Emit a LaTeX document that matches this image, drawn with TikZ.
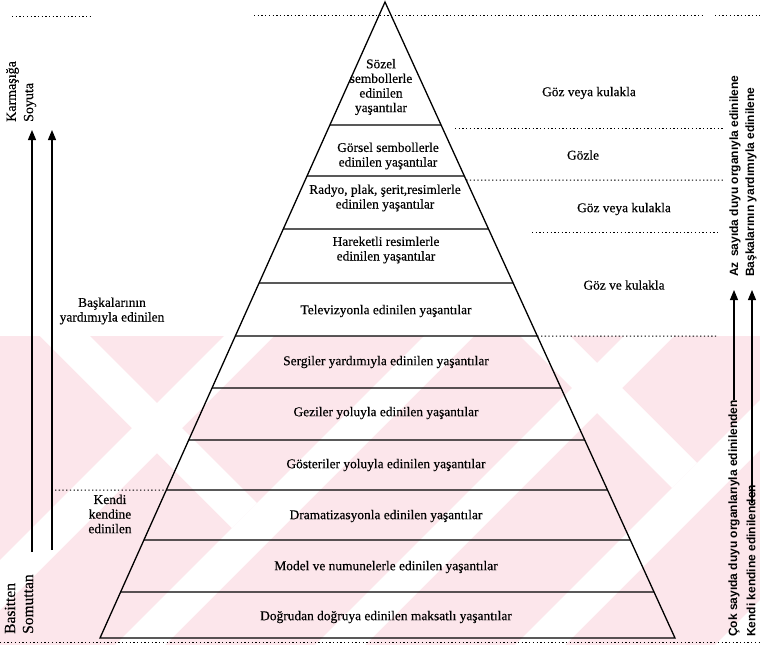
\documentclass[tikz,border=0pt]{standalone}
\usepackage{fontspec}
\setmainfont{Liberation Serif}[FakeBold=0.35]
\newfontfamily\sansb{Liberation Sans}
\usetikzlibrary{arrows.meta,calc}
\definecolor{wm}{RGB}{252,230,235}
\begin{document}
\begin{tikzpicture}[x=1pt,y=-1pt,
  lbl/.style={font=\fontsize{13.4}{14.6}\selectfont, align=center, inner sep=0pt},
  vtxt/.style={font=\fontsize{14}{15}\selectfont, rotate=90, anchor=west, inner sep=0pt},
  vtxtb/.style={font=\fontsize{15.5}{16}\selectfont, rotate=90, anchor=west, inner sep=0pt},
  vsans/.style={font=\sansb\bfseries\fontsize{12}{13}\selectfont, rotate=90, anchor=west, inner sep=0pt},
  dotline/.style={line width=1pt, dash pattern=on 1.3pt off 2.4pt},
  pedge/.style={line width=1.3pt, line join=miter},
  tier/.style={line width=1.2pt},
  uparrow/.style={line width=1.1pt, -{Triangle[length=10pt,width=8pt]}},
  band/.style={fill=white, draw=none},
]
\clip (0,0) rectangle (760,645);
% watermark
\begin{scope}
  \clip (0,336) rectangle (760,645);
  \fill[wm] (0,336) rectangle (760,645);
  \foreach \c in {560,760,960,1160,1360} {
    \fill[band] (\c-336,336) -- (\c-336+50,336) -- (\c-645+50,645) -- (\c-645,645) -- cycle;
  }
  \fill[band] (40,336) -- (90,336) -- (257,503) -- (232,528) -- cycle;
  \fill[band] (520,336) -- (570,336) -- (697,463) -- (672,488) -- cycle;
\end{scope}

% pyramid
\coordinate (A) at (385,2);
\coordinate (BL) at (100,638);
\coordinate (BR) at (675,638);
\draw[pedge] (A) -- (BL) -- (BR) -- cycle;
\foreach \y [count=\i] in {125,176,229,283,336,388,440,490,540,592} {
  \coordinate (L\i) at (intersection of A--BL and 0,\y--760,\y);
  \coordinate (R\i) at (intersection of A--BR and 0,\y--760,\y);
  \draw[tier] (L\i) -- (R\i);
}

% tier labels
\node[lbl] (t1) at (381,87) {Sözel\\sembollerle\\edinilen\\yaşantılar};
\node[lbl] (t2) at (388,156) {Görsel sembollerle\\edinilen yaşantılar};
\node[lbl] (t3) at (385,198) {Radyo, plak, şerit,resimlerle\\edinilen yaşantılar};
\node[lbl] (t4) at (386,250) {Hareketli resimlerle\\edinilen yaşantılar};
\node[lbl] (t5) at (386,311) {Televizyonla edinilen yaşantılar};
\node[lbl] (t6) at (386,362) {Sergiler yardımıyla edinilen yaşantılar};
\node[lbl] (t7) at (386,413) {Geziler yoluyla edinilen yaşantılar};
\node[lbl] (t8) at (386,465) {Gösteriler yoluyla edinilen yaşantılar};
\node[lbl] (t9) at (386,516) {Dramatizasyonla edinilen yaşantılar};
\node[lbl] (t10) at (386,567) {Model ve numunelerle edinilen yaşantılar};
\node[lbl] (t11) at (386,617) {Doğrudan doğruya edinilen maksatlı yaşantılar};

% dotted guide lines
\coordinate (d1a) at (12,16);   \coordinate (d1b) at (92,16);
\coordinate (d2a) at (254,15);  \coordinate (d2b) at (705,15);
\coordinate (d3a) at (715,15);  \coordinate (d3b) at (760,15);
\coordinate (d4a) at (455,128); \coordinate (d4b) at (723,128);
\coordinate (d5a) at (intersection of A--BR and 0,180--760,180); \coordinate (d5b) at (723,180);
\coordinate (d6a) at (532,232); \coordinate (d6b) at (720,232);
\coordinate (d7a) at (intersection of A--BR and 0,336--760,336); \coordinate (d7b) at (718,336);
\coordinate (d8a) at (55,490);  \coordinate (d8b) at (intersection of A--BL and 0,490--760,490);
\coordinate (d9a) at (0,642);   \coordinate (d9b) at (760,642);
\foreach \k in {1,...,9} { \draw[dotline] (d\k a) -- (d\k b); }

% right-hand sense labels
\node[lbl] (s1) at (589,93) {Göz veya kulakla};
\node[lbl] (s2) at (583,155) {Gözle};
\node[lbl] (s3) at (624,209) {Göz veya kulakla};
\node[lbl] (s4) at (624,285) {Göz ve kulakla};

% left labels
\node[vtxt] (k1) at (12.5,122) {Karmaşığa};
\node[vtxt] (k2) at (30,122) {Soyuta};
\node[vtxtb] (b1) at (10,634) {Basitten};
\node[vtxtb] (b2) at (28,634) {Somuttan};
\node[lbl] (bask) at (112,311) {Başkalarının\\yardımıyla edinilen};
\node[lbl] (kend) at (110,514) {Kendi\\kendine\\edinilen};

% left arrows
\coordinate (la1s) at (32,552); \coordinate (la1e) at (32,130);
\coordinate (la2s) at (52,550); \coordinate (la2e) at (52,130);
\draw[uparrow] (la1s) -- (la1e);
\draw[uparrow] (la2s) -- (la2e);

% right vertical texts and arrows
\node[vsans] (cok) at (734,637) {Çok sayıda duyu organlarıyla edinilenden};
\node[vsans] (kk) at (751,637) {Kendi kendine edinilenden};
\node[vsans] (az) at (735,277) {Az\, sayıda duyu organıyla edinilene};
\node[vsans] (bk) at (751,277) {Başkalarının yardımıyla edinilene};
\coordinate (ra1e) at (734,290);
\coordinate (ra2s) at (752,503);
\coordinate (ra2e) at (752,290);
\draw[uparrow] (cok.east) -- (ra1e);
\draw[uparrow] (ra2s) -- (ra2e);
\end{tikzpicture}
\end{document}
